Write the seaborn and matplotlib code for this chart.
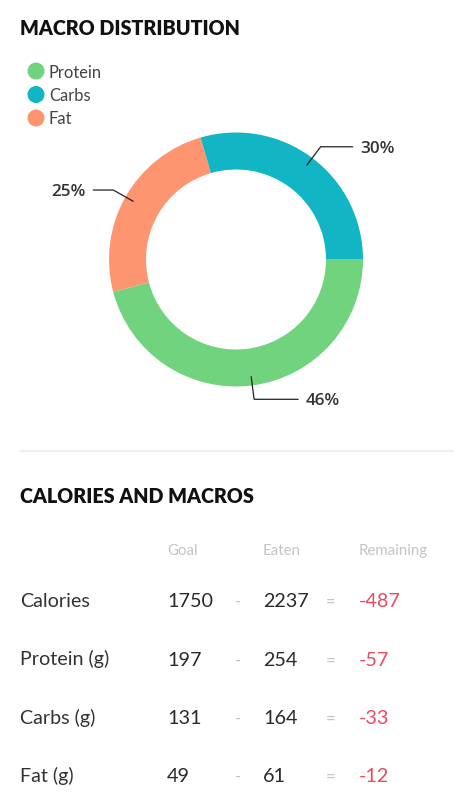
import numpy as np
import matplotlib
matplotlib.use("Agg")
import matplotlib.pyplot as plt
import seaborn as sns

# ---- data ----
macros = ["Protein", "Carbs", "Fat"]
macro_colors = ["#72d37e", "#12b5c4", "#fd9670"]
# wedge order as drawn (clockwise from 3 o'clock)
wedge_names = ["Protein", "Fat", "Carbs"]
wedge_shares = [45.9, 24.6, 29.5]
wedge_labels = ["46%", "25%", "30%"]

row_names = ["Calories", "Protein (g)", "Carbs (g)", "Fat (g)"]
goal = [1750, 197, 131, 49]
eaten = [2237, 254, 164, 61]
remaining = [-487, -57, -33, -12]
col_headers = ["Goal", "Eaten", "Remaining"]

W, H = 473, 800
sns.set_theme(style="white")
plt.rcParams["font.family"] = ["Lato", "DejaVu Sans"]

fig = plt.figure(figsize=(W / 100, H / 100), dpi=100)
fig.patch.set_facecolor("white")


def fx(x):
    return x / W


def fy(y):
    return 1 - y / H


def ftext(x, y, s, **kw):
    kw.setdefault("va", "baseline")
    fig.text(fx(x), fy(y), s, **kw)


# ---- section 1: donut ----
ftext(20, 35, "MACRO DISTRIBUTION", fontsize=14.2, fontweight="heavy", color="#111111")

pal = dict(zip(macros, sns.color_palette(macro_colors)))
leg_ax = fig.add_axes([0, 0, 1, 1], facecolor="none")
leg_ax.set_xlim(0, W)
leg_ax.set_ylim(H, 0)
leg_ax.axis("off")
for i, name in enumerate(macros):
    cy = 71 + i * 23.5
    leg_ax.scatter([36], [cy], s=150, color=pal[name], edgecolor="none")
    ftext(49, cy + 6.5, name, fontsize=11.9, color="#444444")

cx, cy, R = 236, 259.5, 127
ax = fig.add_axes([fx(cx - R), fy(cy + R), 2 * R / W, 2 * R / H])
wedges, _ = ax.pie(
    wedge_shares,
    colors=[pal[n] for n in wedge_names],
    startangle=0,
    counterclock=False,
    radius=1,
    wedgeprops=dict(width=37 / R, edgecolor="none"),
)
ax.set_xlim(-1, 1)
ax.set_ylim(-1, 1)
ax.axis("off")

# horizontal leader length (px) per wedge
arm_len = {"Protein": 44, "Fat": 20, "Carbs": 32}
for w, name, lab in zip(wedges, wedge_names, wedge_labels):
    mid = np.deg2rad((w.theta1 + w.theta2) / 2)
    x0, y0 = 0.93 * np.cos(mid), 0.93 * np.sin(mid)
    x1, y1 = 1.11 * np.cos(mid), 1.11 * np.sin(mid)
    side = 1 if np.cos(mid) >= 0 else -1
    x2 = x1 + side * arm_len[name] / R
    ax.plot([x0, x1, x2], [y0, y1, y1], color="#222222", lw=0.9, clip_on=False,
            solid_joinstyle="miter")
    ax.text(x2 + side * 8 / R, y1, lab, ha="left" if side > 0 else "right",
            va="center_baseline", fontsize=12.3, color="#333333",
            family=["Open Sans", "DejaVu Sans"], fontweight="semibold")

# separator
sep = fig.add_axes([0, 0, 1, 1], facecolor="none")
sep.set_xlim(0, W)
sep.set_ylim(H, 0)
sep.axis("off")
sep.plot([20, 454], [451, 451], color="#ececec", lw=1.2)

# ---- section 2: table ----
ftext(20, 503, "CALORIES AND MACROS", fontsize=14.2, fontweight="heavy", color="#111111")

col_x = [167, 263, 359]
for x, h in zip(col_x, col_headers):
    ftext(x, 555, h, fontsize=10.8, color="#c4c4c4")

row_base = [607, 665.5, 724, 782]
for yb, name, g, e, r in zip(row_base, row_names, goal, eaten, remaining):
    ftext(20, yb, name, fontsize=14.2, color="#333333")
    ftext(col_x[0], yb, str(g), fontsize=14.2, color="#2a2a2a")
    ftext(238, yb, "-", fontsize=12, color="#c4c4c4", ha="center")
    ftext(col_x[1], yb, str(e), fontsize=14.2, color="#2a2a2a")
    ftext(331, yb, "=", fontsize=12, color="#c4c4c4", ha="center")
    ftext(col_x[2], yb, str(r), fontsize=14.2, color="#eb4a61")

fig.savefig("out.png", dpi=100, facecolor="white")
